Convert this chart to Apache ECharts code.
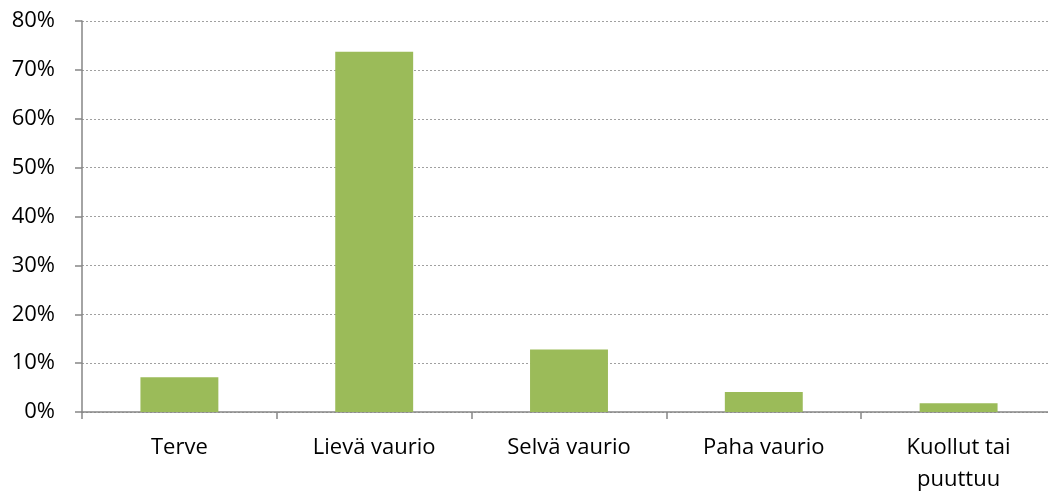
<!DOCTYPE html>
<html style="height: 100%">
  <head>
    <meta charset="utf-8">
  </head>
  <body style="height: 100%; margin: 0; background: #fff">
    <div id="container" style="width: 1048px; height: 492px"></div>
    <script src="https://cdn.jsdelivr.net/npm/echarts@6/dist/echarts.min.js"></script>
    <script type="text/javascript">
      // share of trees per damage class (%)
      let categories = ['Terve', 'Lievä vaurio', 'Selvä vaurio', 'Paha vaurio', 'Kuollut tai\npuuttuu'];
      let shares = [7.1, 73.7, 12.8, 4.1, 1.8];
      let yTicks = [0, 10, 20, 30, 40, 50, 60, 70, 80];

      let dom = document.getElementById('container');
      let myChart = echarts.init(dom);

      let font = '"Open Sans", sans-serif';
      let axisGrey = '#868686';

      let option = {
        animation: false,
        grid: {
          left: 82,
          top: 21,
          bottom: 80,
          width: 974,
          // the plot runs a little past the right edge, like the original
          outerBoundsMode: 'none'
        },
        xAxis: {
          type: 'category',
          data: categories,
          axisLine: { lineStyle: { color: axisGrey, width: 1.5 } },
          axisTick: { show: true, length: 7, lineStyle: { color: axisGrey, width: 1.5 } },
          axisLabel: {
            color: '#000',
            fontFamily: font,
            fontSize: 22,
            lineHeight: 32,
            margin: 20
          }
        },
        yAxis: {
          type: 'value',
          min: yTicks[0],
          max: yTicks[yTicks.length - 1],
          interval: 10,
          axisLine: { show: true, lineStyle: { color: axisGrey, width: 1.5 } },
          axisTick: { show: true, length: 7, lineStyle: { color: axisGrey, width: 1.5 } },
          splitLine: {
            show: true,
            lineStyle: { color: '#a0a0a0', type: [2, 2], width: 1 }
          },
          axisLabel: {
            color: '#000',
            fontFamily: font,
            fontSize: 22,
            margin: 27,
            formatter: function (v) {
              return v + '%';
            }
          }
        },
        series: [{
          type: 'bar',
          data: shares,
          barWidth: '40%',
          itemStyle: { color: '#9bbb59' }
        }]
      };

      myChart.setOption(option);
    </script>
  </body>
</html>
